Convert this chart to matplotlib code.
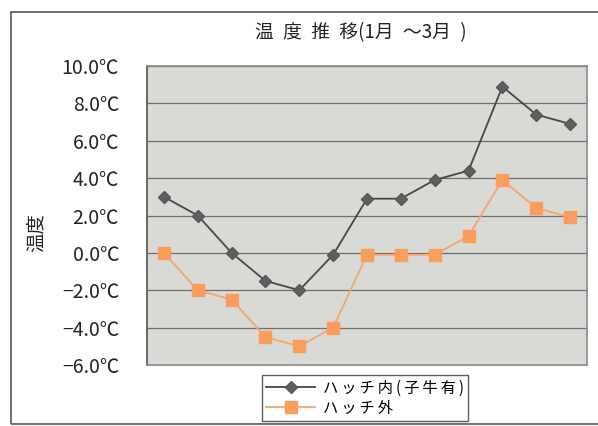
import matplotlib
matplotlib.use("Agg")
import matplotlib.pyplot as plt
from matplotlib.patches import Rectangle

plt.rcParams['font.family'] = ['Noto Sans CJK JP', 'DejaVu Sans']

title = "温度推移(1月～3月)"
ylabel = "温度"
series_names = ["ハッチ内(子牛有)", "ハッチ外"]
inside = [3.0, 2.0, 0.0, -1.5, -2.0, -0.1, 2.9, 2.9, 3.9, 4.4, 8.9, 7.4, 6.9]
outside = [0.0, -2.0, -2.5, -4.5, -5.0, -4.0, -0.1, -0.1, -0.1, 0.9, 3.9, 2.4, 1.9]
y_ticks = [-6.0, -4.0, -2.0, 0.0, 2.0, 4.0, 6.0, 8.0, 10.0]


def spaced(text, gap):
    """Open up the letter spacing of a label."""
    return gap.join(text)


def title_spaced(text, gap):
    """Space out the kanji, keeping digit groups, the wave dash and the opening paren tight."""
    out = ""
    for i, c in enumerate(text):
        out += c
        nxt = text[i + 1] if i + 1 < len(text) else ""
        if nxt and ord(c) > 0x2000 and c != "～" and nxt != "(":
            out += gap
    return out


W, H = 598, 426
fig = plt.figure(figsize=(W / 100, H / 100), dpi=100)
fig.patch.set_facecolor("white")

# outer chart frame
fig.patches.append(Rectangle((11 / W, 2 / H), 1.2, 1 - 14 / H, transform=fig.transFigure,
                             fill=False, edgecolor="#555555", linewidth=1.2, clip_on=False))

ax = fig.add_axes([147 / W, 1 - 365 / H, 440 / W, 299 / H])
ax.set_facecolor("#d9d9d5")

x = list(range(len(inside)))
ax.plot(x, inside, color="#474747", linewidth=1.3, marker="D", markersize=6.5,
        markerfacecolor="#5f5f5f", markeredgecolor="#555555",
        label=spaced(series_names[0], "\u2009"), zorder=3)
ax.plot(x, outside, color="#f8a46c", linewidth=1.3, marker="s", markersize=9,
        markerfacecolor="#f99c5c", markeredgecolor="#f99c5c",
        label=spaced(series_names[1], "\u2009"), zorder=3)

ax.set_xlim(-0.5, len(inside) - 0.5)
ax.set_ylim(-6, 10)
ax.set_yticks(y_ticks)
ax.set_yticklabels([f"{v:.1f}℃".replace("-", "−") for v in y_ticks], fontsize=14, color="#222222")
ax.tick_params(axis="y", length=0, pad=20)
ax.set_xticks([])
ax.grid(axis="y", color="#6f6f6f", linewidth=0.9)
ax.set_axisbelow(True)
for side, sp in ax.spines.items():
    sp.set_color("#8a8a8a")
    sp.set_linewidth(1.2)
ax.spines["left"].set_color("#555555")

fig.text(361 / W, 1 - 33 / H, title_spaced(title, "\u2002"), ha="center", va="center",
         fontsize=13.5, color="#222222")
fig.text(36 / W, 1 - 232 / H, ylabel, ha="center", va="center", rotation=90, fontsize=14,
         color="#222222")

leg = fig.legend(loc="center", bbox_to_anchor=(365 / W, 1 - 398 / H), fontsize=11,
                 frameon=True, fancybox=False, edgecolor="#333333", handlelength=3.2,
                 borderpad=0.3, labelspacing=0.2, handletextpad=0.5)
leg.get_frame().set_linewidth(1.0)

fig.savefig("out.png", dpi=100)
